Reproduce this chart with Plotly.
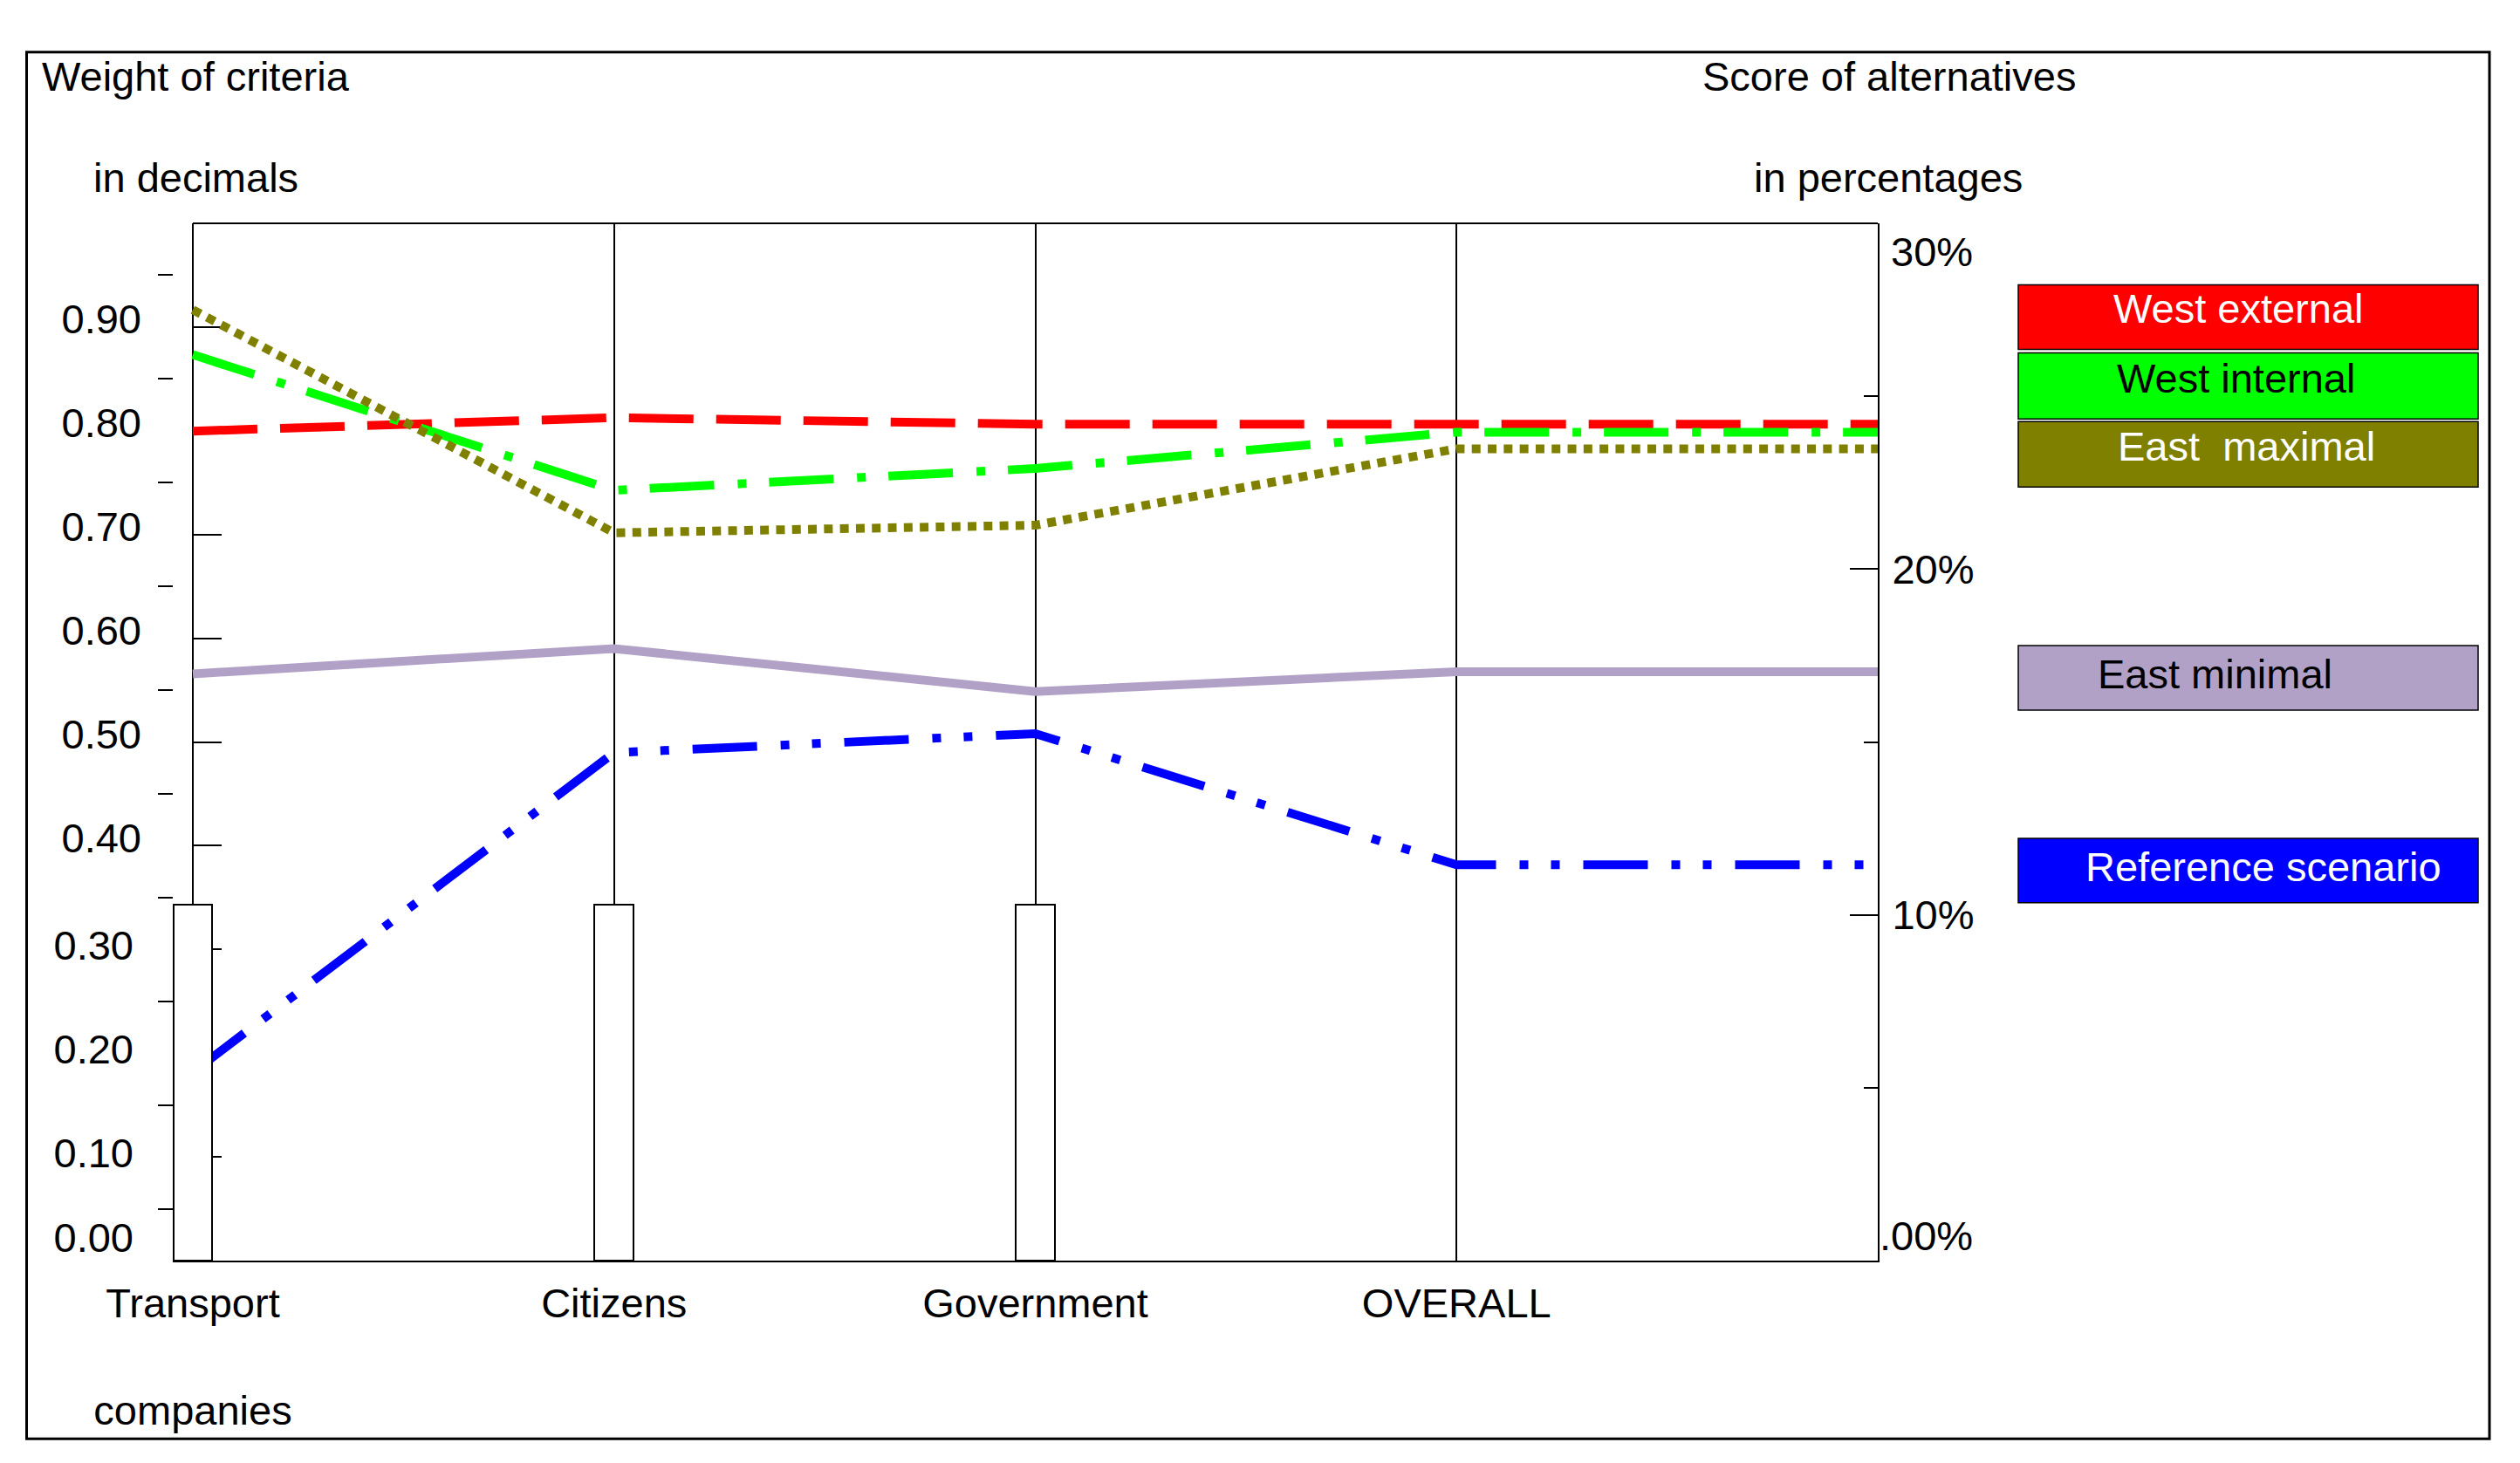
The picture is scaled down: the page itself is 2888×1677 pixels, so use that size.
import plotly.graph_objects as go

# ---------------- data ----------------
category_slots = ["Transport<br><br>companies", "Citizens", "Government", "OVERALL", ""]
slot_index = [0, 1, 2, 3, 4]

criteria_index = [0, 1, 2]
criteria_weights = [0.343, 0.343, 0.343]          # weight of criteria (decimals)

west_external = [23.99, 24.38, 24.19, 24.19, 24.19]  # score (%)
west_internal = [26.20, 22.28, 22.91, 23.96, 23.96]
east_maximal = [27.50, 21.05, 21.27, 23.48, 23.48]
east_minimal = [16.97, 17.70, 16.46, 17.03, 17.03]
reference_scenario = [5.45, 14.69, 15.24, 11.45, 11.45]

weight_ticks_upper = [0.4, 0.5, 0.6, 0.7, 0.8, 0.9]
weight_ticktext_upper = ["0.40", "0.50", "0.60", "0.70", "0.80", "0.90"]
weight_ticks_lower = [0.1, 0.2, 0.3]
weight_ticktext_lower = ["0.10", "0.20", "0.30"]
weight_ticks_all = [0.1, 0.2, 0.3, 0.4, 0.5, 0.6, 0.7, 0.8, 0.9]
weight_minor_ticks = [0.05, 0.15, 0.25, 0.35, 0.45, 0.55, 0.65, 0.75, 0.85, 0.95]
score_ticks = [10, 20]
score_ticktext = ["10%", "20%"]
score_minor_ticks = [5, 15, 25]

legend_names = ["West external", "West internal", "East  maximal", "East minimal", "Reference scenario"]
legend_fill = ["#FF0000", "#00FF00", "#808000", "#B2A1C7", "#0000FF"]
legend_text = ["white", "black", "white", "black", "white"]

# ---------------- geometry helpers (screen pixels -> paper) ----------------
W, H = 2888, 1677
OFF = 8                                     # page body margin
S_PL, S_PR, S_PT, S_PB = 198, 2152, 255.5, 1445.5   # plot area on screen
S_AX0 = 221                                 # screen x of first category
PL, PR, PT, PB = S_PL - OFF, S_PR - OFF, S_PT - OFF, S_PB - OFF
unit = (S_PR - S_AX0) / 4.0


def px(x):
    return (x - OFF - PL) / (PR - PL)


def py(y):
    return (PB - (y - OFF)) / (PB - PT)


FONT = "Arial, Liberation Sans, sans-serif"
FS = 47

fig = go.Figure()

series = [
    ("East minimal", east_minimal, "#B2A1C7", "solid"),
    ("Reference scenario", reference_scenario, "#0000FF", "74px,27px,10px,26px,10px,27px"),
    ("West external", west_external, "#FF0000", "74px,26px"),
    ("West internal", west_internal, "#00FF00", "74px,27px,10px,26px"),
    ("East maximal", east_maximal, "#808000", "10px,8.3px"),
]
for name, vals, col, dash in series:
    fig.add_trace(go.Scatter(
        x=slot_index, y=vals, name=name, mode="lines",
        line=dict(color=col, width=10, dash=dash),
        yaxis="y", cliponaxis=False, showlegend=False,
    ))

fig.add_trace(go.Bar(
    x=criteria_index, y=criteria_weights, yaxis="y2",
    width=44.6 / unit,
    marker=dict(color="white", line=dict(color="black", width=2)),
    showlegend=False,
))

common_off = dict(showgrid=False, zeroline=False, automargin=False)
pos_ax0 = (S_AX0 - S_PL) / (S_PR - S_PL)

fig.update_layout(
    width=W, height=H,
    template="none",
    paper_bgcolor="white", plot_bgcolor="white",
    font=dict(family=FONT, size=FS, color="black"),
    margin=dict(l=PL, r=W - PR, t=PT, b=H - PB, pad=0),
    showlegend=False,
    bargap=0,
    xaxis=dict(
        domain=[0, 1], range=[-(S_AX0 - S_PL) / unit, 4],
        tickmode="array", tickvals=slot_index, ticktext=category_slots,
        showgrid=True, gridcolor="black", gridwidth=2,
        showline=True, linecolor="black", linewidth=2,
        ticks="", zeroline=False, automargin=False,
        ticklabelstandoff=7,
        tickfont=dict(size=FS),
    ),
    yaxis=dict(
        side="right", anchor="x", range=[0, 30],
        showline=True, linecolor="black", linewidth=2,
        ticks="inside", ticklen=32, tickwidth=2, tickcolor="black",
        tickmode="array", tickvals=score_ticks, ticktext=score_ticktext,
        minor=dict(tickmode="array", tickvals=score_minor_ticks, ticks="inside",
                   ticklen=16, tickwidth=2, tickcolor="black"),
        ticklabelstandoff=5,
        **common_off,
    ),
    yaxis2=dict(
        overlaying="y", anchor="free", position=pos_ax0, side="left", range=[0, 1],
        showline=True, linecolor="black", linewidth=2, layer="below traces",
        ticks="inside", ticklen=32, tickwidth=2, tickcolor="black",
        tickmode="array", tickvals=weight_ticks_all, showticklabels=False,
        **common_off,
    ),
    yaxis3=dict(
        overlaying="y", anchor="free", position=0, side="left", range=[0, 1],
        showline=False, ticks="outside", ticklen=17, tickwidth=2, tickcolor="black",
        tickmode="array", tickvals=weight_minor_ticks, showticklabels=False,
        layer="below traces",
        **common_off,
    ),
    yaxis4=dict(
        overlaying="y", anchor="free", position=pos_ax0, side="left", range=[0, 1],
        showline=False, ticks="", tickmode="array",
        tickvals=weight_ticks_upper, ticktext=weight_ticktext_upper,
        ticklabelstandoff=59, ticklabelshift=-9,
        **common_off,
    ),
    yaxis5=dict(
        overlaying="y", anchor="free", position=pos_ax0, side="left", range=[0, 1],
        showline=False, ticks="", tickmode="array",
        tickvals=weight_ticks_lower, ticktext=weight_ticktext_lower,
        ticklabelstandoff=68, ticklabelshift=-5,
        **common_off,
    ),
    yaxis6=dict(
        overlaying="y", anchor="free", position=pos_ax0, side="left", range=[0, 1],
        showline=False, ticks="", tickmode="array", tickvals=[0], ticktext=["0.00"],
        ticklabelposition="outside top", ticklabelstandoff=68, ticklabelshift=6,
        **common_off,
    ),
    yaxis7=dict(
        overlaying="y", anchor="x", side="right", range=[0, 30],
        showline=False, ticks="", tickmode="array", tickvals=[30], ticktext=["30%"],
        ticklabelposition="outside bottom", ticklabelstandoff=14,
        **common_off,
    ),
    yaxis8=dict(
        overlaying="y", anchor="x", side="right", range=[0, 30],
        showline=False, ticks="", tickmode="array", tickvals=[0], ticktext=[".00%"],
        ticklabelposition="outside top", ticklabelstandoff=1, ticklabelshift=4,
        **common_off,
    ),
)

# empty traces to activate helper axes
for ax in ["y3", "y4", "y5", "y6", "y7", "y8"]:
    fig.add_trace(go.Scatter(x=[None], y=[None], yaxis=ax, showlegend=False, hoverinfo="skip"))

shapes = []
# outer frame
shapes.append(dict(type="rect", xref="paper", yref="paper",
                   x0=px(30.5), x1=px(2853), y0=py(1650), y1=py(59),
                   line=dict(color="black", width=3), fillcolor="rgba(0,0,0,0)"))
# top border of plot area
shapes.append(dict(type="line", xref="paper", yref="paper",
                   x0=pos_ax0, x1=1, y0=1, y1=1, line=dict(color="black", width=2)))

legend_boxes = [(326, 400), (404, 480), (483, 558), (740, 814), (961, 1035)]
legend_text_x = [2565, 2562, 2574, 2538, 2594]
legend_text_y = [353, 433, 511, 772, 994]
for (y0, y1), fill in zip(legend_boxes, legend_fill):
    shapes.append(dict(type="rect", xref="paper", yref="paper",
                       x0=px(2313), x1=px(2840), y0=py(y1), y1=py(y0),
                       line=dict(color="black", width=1.5), fillcolor=fill))
fig.update_layout(shapes=shapes)

annotations = []
for name, tc, tx, ty in zip(legend_names, legend_text, legend_text_x, legend_text_y):
    annotations.append(dict(text=name, xref="paper", yref="paper", x=px(tx), y=py(ty),
                            xanchor="center", yanchor="middle", showarrow=False,
                            font=dict(color=tc, size=FS, family=FONT)))

titles = [("Weight of criteria", 46, 87), ("in decimals", 105, 203),
          ("Score of alternatives", 1949, 87), ("in percentages", 2008, 203)]
for t, tx, ty in titles:
    annotations.append(dict(text=t, xref="paper", yref="paper", x=px(tx), y=py(ty),
                            xanchor="left", yanchor="middle", showarrow=False,
                            font=dict(size=FS, family=FONT, color="black")))
fig.update_layout(annotations=annotations)

fig.write_html("out.html")
